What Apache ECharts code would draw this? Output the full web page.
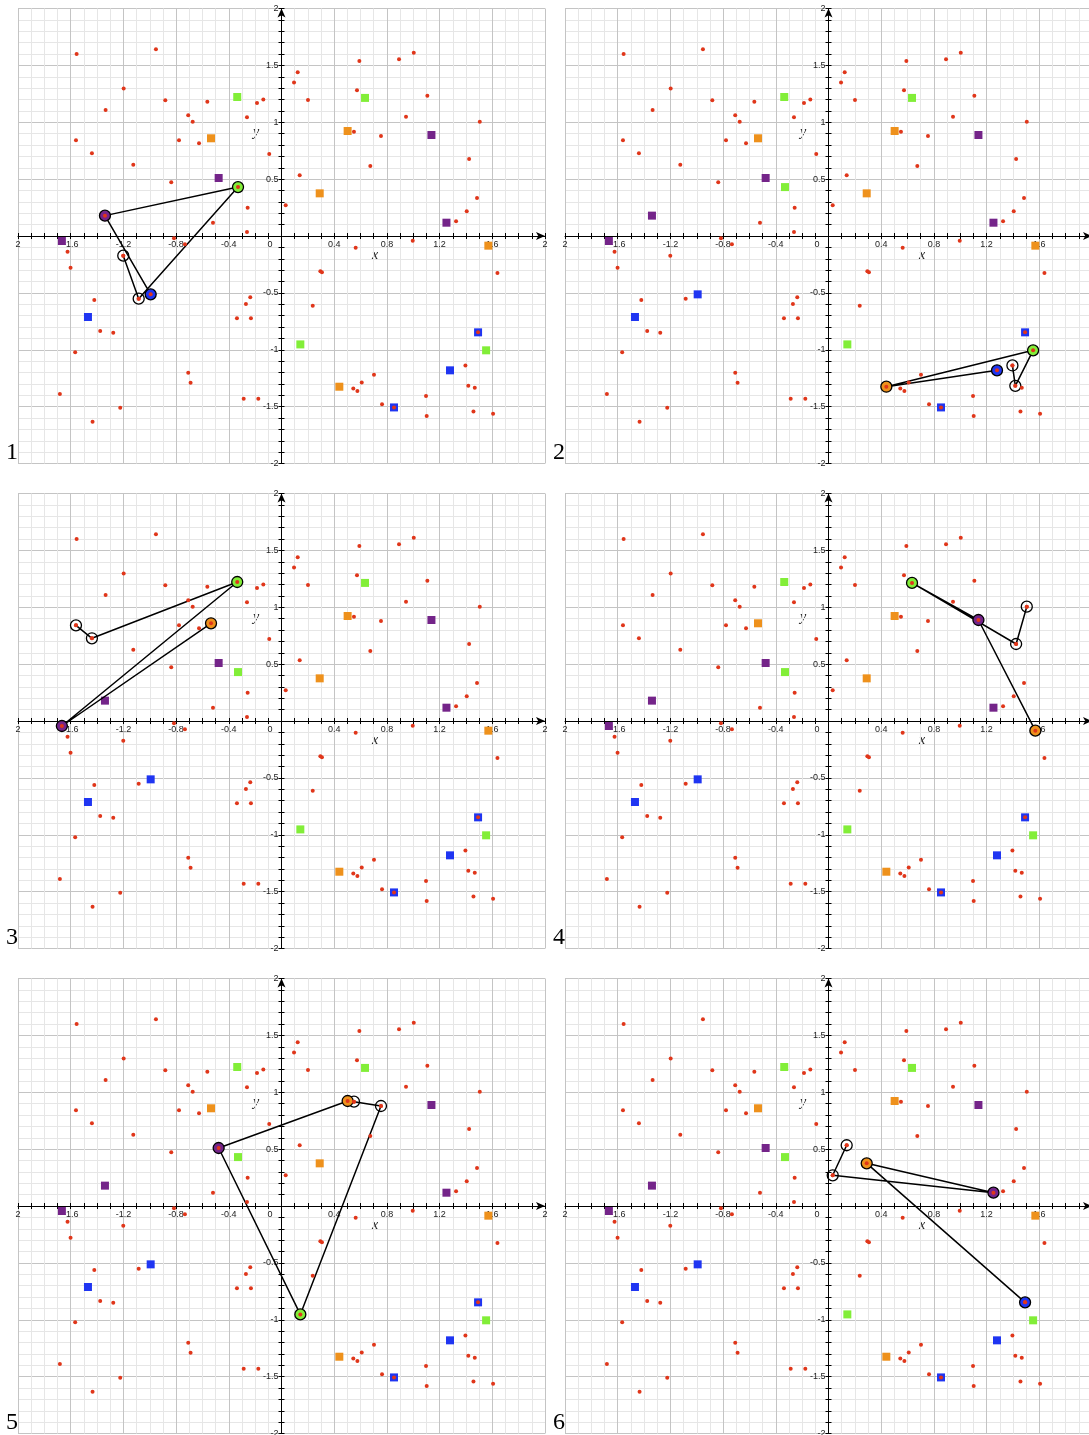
<!DOCTYPE html>
<html>
<head>
<meta charset="utf-8">
<script src="https://cdn.jsdelivr.net/npm/echarts@6/dist/echarts.min.js"></script>
<style>
html, body { margin: 0; padding: 0; background: #fff; }
#chart { width: 1089px; height: 1435px; }
</style>
</head>
<body>
<div id="chart"></div>
<script>
// scattered customers (small red dots), same in every panel
const redDots = [
    [-1.555, 1.600], [-0.953, 1.642], [-1.198, 1.296], [-1.335, 1.108], [-0.882, 1.193],
    [-0.563, 1.181], [-0.708, 1.061], [-0.674, 1.005], [-0.262, 1.044], [-0.186, 1.170],
    [-0.138, 1.199], [-1.560, 0.841], [-1.439, 0.727], [-0.778, 0.841], [-0.626, 0.815],
    [-0.093, 0.721], [-1.125, 0.627], [-0.837, 0.472], [-0.257, 0.249], [-0.520, 0.117],
    [-0.262, 0.035],
    [-1.624, -0.138], [-1.601, -0.279], [-0.816, -0.020], [-0.733, -0.073], [-1.201, -0.173],
    [-1.084, -0.551], [-1.421, -0.563], [-1.376, -0.836], [-1.277, -0.850], [-1.566, -1.023],
    [-0.237, -0.539], [-0.270, -0.598], [-0.338, -0.724], [-0.232, -0.724], [-0.708, -1.202],
    [-0.690, -1.290], [-1.682, -1.390], [-1.224, -1.510], [-1.434, -1.633], [-0.287, -1.431],
    [-0.176, -1.431],
    [0.123, 1.440], [0.095, 1.349], [0.201, 1.196], [0.591, 1.539], [0.573, 1.281],
    [0.892, 1.554], [1.004, 1.612], [1.107, 1.234], [0.945, 1.049], [1.505, 1.005],
    [0.550, 0.917], [0.755, 0.879], [0.674, 0.616], [1.424, 0.677], [0.138, 0.534],
    [1.484, 0.334], [0.032, 0.270], [1.406, 0.217], [1.325, 0.129],
    [0.563, -0.103], [0.996, -0.041], [0.295, -0.310], [0.307, -0.318], [1.639, -0.325],
    [0.237, -0.613], [1.396, -1.138], [0.702, -1.220], [0.609, -1.287], [0.545, -1.340],
    [0.576, -1.363], [1.418, -1.317], [1.467, -1.334], [0.763, -1.480], [1.097, -1.407],
    [1.102, -1.583], [1.457, -1.542], [1.606, -1.563], [1.492, -0.847], [0.854, -1.507]
];

// depots (coloured squares)
const purpleSquares = [[-0.477, 0.510], [-1.340, 0.179], [-1.667, -0.044], [1.138, 0.888], [1.252, 0.117]];
const orangeSquares = [[-0.535, 0.859], [0.502, 0.923], [0.290, 0.375], [1.570, -0.085], [0.439, -1.325]];
const greenSquares = [[-0.336, 1.222], [0.634, 1.214], [0.143, -0.953], [1.553, -1.005], [-0.330, 0.430]];
const blueSquares = [[-1.469, -0.712], [-0.993, -0.513], [1.492, -0.847], [1.279, -1.181], [0.854, -1.507]];

// one route per panel: [x, y, kind]
const paths = [
    [[-1.201, -0.173, 'w'], [-1.084, -0.551, 'w'], [-0.330, 0.430, 'green'], [-1.340, 0.179, 'purple'], [-0.993, -0.513, 'blue']],
    [[1.396, -1.138, 'w'], [1.418, -1.317, 'w'], [1.553, -1.005, 'green'], [0.439, -1.325, 'orange'], [1.279, -1.181, 'blue']],
    [[-1.560, 0.841, 'w'], [-1.439, 0.727, 'w'], [-0.336, 1.222, 'green'], [-1.667, -0.044, 'purple'], [-0.535, 0.859, 'orange']],
    [[1.505, 1.005, 'w'], [1.424, 0.677, 'w'], [0.634, 1.214, 'green'], [1.138, 0.888, 'purple'], [1.570, -0.085, 'orange']],
    [[0.550, 0.917, 'w'], [0.755, 0.879, 'w'], [0.143, -0.953, 'green'], [-0.477, 0.510, 'purple'], [0.502, 0.923, 'orange']],
    [[0.138, 0.534, 'w'], [0.032, 0.270, 'w'], [1.252, 0.117, 'purple'], [0.290, 0.375, 'orange'], [1.492, -0.847, 'blue']]
];

const panelLabels = ['1', '2', '3', '4', '5', '6'];

const COLORS = {
    red: '#e0361a',
    purple: '#742489',
    orange: '#ee911c',
    green: '#82ee38',
    blue: '#1f35f2',
    w: 'rgba(255,255,255,0)'
};

const PANEL_W = 527;
const PANEL_H = 455;
const LABEL_FONT = '"Liberation Sans", Arial, sans-serif';
const SERIF = '"Liberation Serif", "DejaVu Serif", serif';

function panelOffset(i) {
    return [i % 2 ? 547 : 0, Math.floor(i / 2) * 485];
}

function fmt(v) {
    return String(+v.toFixed(2));
}

// axes are pulled onto the origin with a negative offset
function buildXAxes(i) {
    const shared = {
        type: 'value', gridIndex: i, min: -2, max: 2, interval: 0.4,
        position: 'bottom', offset: -PANEL_H / 2
    };
    const main = Object.assign({}, shared, {
        axisLine: {
            show: true, onZero: false,
            symbol: ['none', 'arrow'], symbolSize: [6, 9],
            lineStyle: { color: '#000', width: 1 }
        },
        axisTick: { show: true, length: 3, lineStyle: { color: '#000' } },
        minorTick: { show: true, splitNumber: 4, length: 3, lineStyle: { color: '#000' } },
        splitLine: { show: true, lineStyle: { color: '#c4c4c4', width: 1 } },
        minorSplitLine: { show: true, lineStyle: { color: '#e6e6e6', width: 1 } },
        axisLabel: {
            show: true, margin: 4, fontSize: 9, color: '#222', fontFamily: LABEL_FONT,
            showMinLabel: true, showMaxLabel: true, hideOverlap: false,
            formatter: (v) => {
                if (Math.abs(v) < 1e-9) return '{z|0}';
                if (v <= -2) return '2';
                return fmt(v);
            },
            rich: { z: { fontSize: 9, color: '#222', fontFamily: LABEL_FONT, padding: [0, 23, 0, 0] } }
        }
    });
    const ticks = Object.assign({}, shared, {
        axisLine: { show: false, onZero: false },
        axisTick: { show: true, inside: true, length: 3, lineStyle: { color: '#000' } },
        minorTick: { show: true, splitNumber: 4, length: 3, lineStyle: { color: '#000' } },
        splitLine: { show: false },
        minorSplitLine: { show: false },
        axisLabel: { show: false }
    });
    return [main, ticks];
}

function buildYAxes(i) {
    const shared = {
        type: 'value', gridIndex: i, min: -2, max: 2, interval: 0.5,
        position: 'left', offset: -(PANEL_W / 2)
    };
    const main = Object.assign({}, shared, {
        axisLine: {
            show: true, onZero: false,
            symbol: ['none', 'arrow'], symbolSize: [6, 9],
            lineStyle: { color: '#000', width: 1 }
        },
        axisTick: { show: true, length: 3, lineStyle: { color: '#000' } },
        minorTick: { show: true, splitNumber: 5, length: 3, lineStyle: { color: '#000' } },
        splitLine: { show: true, lineStyle: { color: '#c4c4c4', width: 1 } },
        minorSplitLine: { show: true, lineStyle: { color: '#e6e6e6', width: 1 } },
        axisLabel: {
            show: true, margin: 3, fontSize: 9, color: '#222', fontFamily: LABEL_FONT,
            showMinLabel: true, showMaxLabel: true, hideOverlap: false,
            formatter: (v) => (Math.abs(v) < 1e-9 ? '' : fmt(v))
        }
    });
    const ticks = Object.assign({}, shared, {
        axisLine: { show: false, onZero: false },
        axisTick: { show: true, inside: true, length: 3, lineStyle: { color: '#000' } },
        minorTick: { show: true, splitNumber: 5, length: 3, lineStyle: { color: '#000' } },
        splitLine: { show: false },
        minorSplitLine: { show: false },
        axisLabel: { show: false }
    });
    return [main, ticks];
}

function squareSeries(i, data, color) {
    return {
        type: 'scatter', xAxisIndex: 2 * i, yAxisIndex: 2 * i,
        data: data, symbol: 'rect', symbolSize: 8,
        itemStyle: { color: color, opacity: 1 }, silent: true, z: 3
    };
}

function buildPanelSeries(i) {
    const path = paths[i];
    return [
        squareSeries(i, purpleSquares, COLORS.purple),
        squareSeries(i, orangeSquares, COLORS.orange),
        squareSeries(i, greenSquares, COLORS.green),
        squareSeries(i, blueSquares, COLORS.blue),
        {
            type: 'line', xAxisIndex: 2 * i, yAxisIndex: 2 * i,
            data: path.map((p) => ({
                value: [p[0], p[1]],
                itemStyle: { color: COLORS[p[2]], borderColor: '#000', borderWidth: 1.3, opacity: 1 }
            })),
            symbol: 'circle', symbolSize: 11, showSymbol: true, showAllSymbol: true,
            lineStyle: { color: '#000', width: 1.5 },
            silent: true, z: 5
        },
        {
            type: 'scatter', xAxisIndex: 2 * i, yAxisIndex: 2 * i,
            data: redDots, symbol: 'circle', symbolSize: 4,
            itemStyle: { color: COLORS.red, opacity: 1 }, silent: true, z: 6
        },
        {
            type: 'scatter', xAxisIndex: 2 * i, yAxisIndex: 2 * i,
            data: path.map((p) => [p[0], p[1]]), symbol: 'circle', symbolSize: 4,
            itemStyle: { color: COLORS.red, opacity: 1 }, silent: true, z: 6
        }
    ];
}

function buildPanelTexts(i) {
    const [ox, oy] = panelOffset(i);
    return [
        {
            type: 'text', x: 6 + ox, y: 465 + oy, silent: true,
            style: {
                text: panelLabels[i], font: '24px ' + SERIF, fill: '#000',
                align: 'left', verticalAlign: 'bottom', textAlign: 'left', textVerticalAlign: 'bottom'
            }
        },
        {
            type: 'text', x: 375 + ox, y: 255 + oy, silent: true,
            style: {
                text: 'x', font: 'italic 14px ' + SERIF, fill: '#222',
                align: 'center', verticalAlign: 'middle', textAlign: 'center', textVerticalAlign: 'middle'
            }
        },
        {
            type: 'text', x: 256 + ox, y: 132 + oy, silent: true,
            style: {
                text: 'y', font: 'italic 14px ' + SERIF, fill: '#222',
                align: 'center', verticalAlign: 'middle', textAlign: 'center', textVerticalAlign: 'middle'
            }
        }
    ];
}

function buildOption() {
    const grid = [];
    const xAxis = [];
    const yAxis = [];
    const series = [];
    const graphic = [];

    paths.forEach((path, i) => {
        const [ox, oy] = panelOffset(i);
        grid.push({
            left: 18 + ox, top: 8.5 + oy, width: PANEL_W, height: PANEL_H,
            containLabel: false, outerBoundsMode: 'none'
        });
        xAxis.push(...buildXAxes(i));
        yAxis.push(...buildYAxes(i));
        series.push(...buildPanelSeries(i));
        graphic.push(...buildPanelTexts(i));
    });

    return {
        animation: false,
        backgroundColor: '#fff',
        grid, xAxis, yAxis, series, graphic
    };
}

const chart = echarts.init(document.getElementById('chart'), null, { renderer: 'canvas' });
chart.setOption(buildOption());
</script>
</body>
</html>
